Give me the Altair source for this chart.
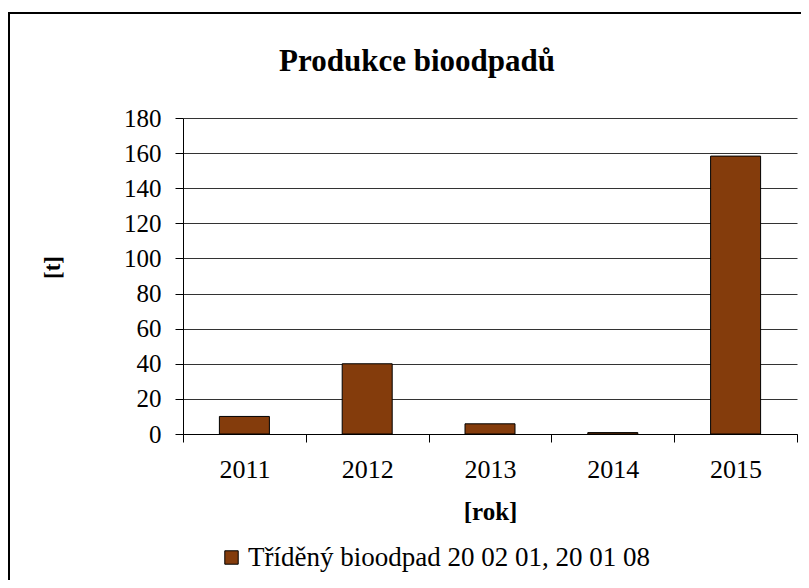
import altair as alt
import pandas as pd

years = ["2011", "2012", "2013", "2014", "2015"]
values = [10, 40, 5.8, 0.8, 158.3]
series_name = "Tříděný bioodpad 20 02 01, 20 01 08"
chart_title = "Produkce bioodpadů"
bar_color = "#843C0C"

FONT = "Liberation Serif"
W, H = 614, 316

df = pd.DataFrame({"rok": years, "t": values, "serie": [series_name] * len(years)})

bars = alt.Chart(df).mark_bar(size=50, stroke="#000000", strokeWidth=1).encode(
    x=alt.X("rok:N", sort=years,
            scale=alt.Scale(paddingInner=0, paddingOuter=0),
            axis=alt.Axis(title="[rok]", labelAngle=0, tickBand="extent",
                          labelFont=FONT, labelFontSize=26, labelColor="#000",
                          labelPadding=14, tickSize=8, tickColor="#000",
                          domainColor="#000", titleFont=FONT, titleFontSize=25,
                          titleFontWeight="bold", titleColor="#000",
                          titleY=77, titleBaseline="middle", grid=False)),
    y=alt.Y("t:Q", scale=alt.Scale(domain=[0, 180], nice=False),
            axis=alt.Axis(title="[t]", values=list(range(0, 181, 20)),
                          labelFont=FONT, labelFontSize=25, labelColor="#000",
                          labelPadding=14, tickSize=8, tickColor="#000",
                          domainColor="#000", gridColor="#333333", gridWidth=1,
                          titleFont=FONT, titleFontSize=23, titleFontWeight="bold",
                          titleColor="#000", titleX=-131, titleY=149,
                          titleAngle=-90, titleBaseline="middle", titleAlign="center")),
    color=alt.Color("serie:N",
                    scale=alt.Scale(domain=[series_name], range=[bar_color]),
                    legend=alt.Legend(title=None, orient="none", legendX=35, legendY=426,
                                      labelFont=FONT, labelFontSize=27, labelColor="#000",
                                      labelLimit=0,
                                      symbolType="square", symbolSize=180,
                                      symbolStrokeColor="#000", symbolStrokeWidth=1,
                                      labelOffset=3, padding=0)),
)

title_df = pd.DataFrame({"txt": [chart_title]})
title = alt.Chart(title_df).mark_text(
    font=FONT, fontSize=31, fontWeight="bold", color="#000",
    align="center", baseline="middle"
).encode(text="txt:N", x=alt.value(234), y=alt.value(-56))

border = alt.Chart(title_df).mark_rect(
    fill=None, stroke="#000", strokeWidth=2
).encode(x=alt.value(-174), x2=alt.value(800), y=alt.value(-105), y2=alt.value(700))

chart = alt.layer(border, bars, title).properties(
    width=W, height=H,
    autosize=alt.AutoSizeParams(type="none"),
    padding={"left": 175, "top": 110, "right": 4, "bottom": 146},
    background="white",
).configure_view(stroke=None)

chart.save("out.html", embed_options={"renderer": "svg", "actions": False})
